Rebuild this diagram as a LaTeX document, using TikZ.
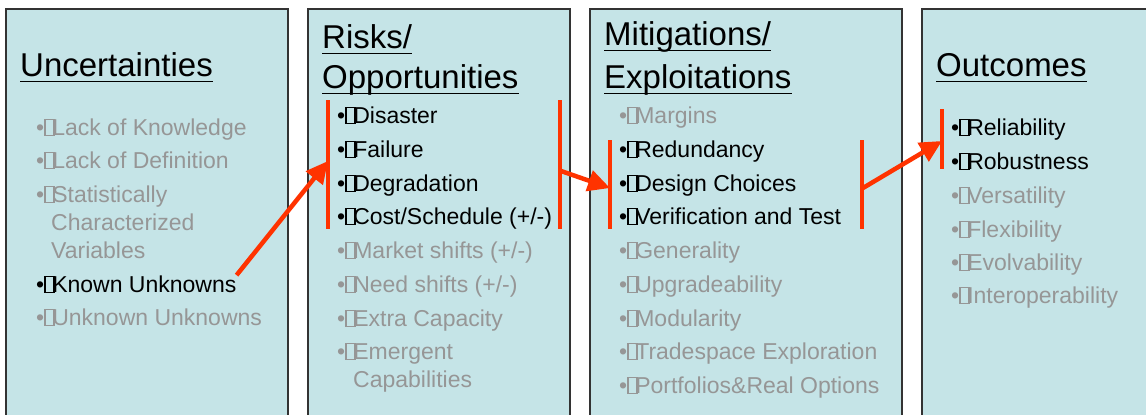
\documentclass[tikz,border=0pt]{standalone}
\usepackage{fontspec}
\setmainfont{Liberation Sans}
\usetikzlibrary{arrows.meta}

\definecolor{panelfill}{RGB}{197,228,231}
\definecolor{dimtext}{RGB}{150,150,150}
\definecolor{hilite}{RGB}{255,51,0}

% the empty glyph box printed after each bullet
\newcommand{\nochar}{\makebox[0.35em][l]{\setlength{\fboxsep}{0pt}\setlength{\fboxrule}{0.06em}\fbox{\rule{0pt}{0.64em}\hspace{0.34em}}}}
\newcommand{\itm}[1]{\textbullet\nochar #1}

\begin{document}
\begin{tikzpicture}[x=1pt, y=-1pt,
    column/.style = {draw=black!80, line width=1.5pt, fill=panelfill},
    head/.style = {anchor=base west, inner sep=0pt, font=\fontsize{33}{38}\selectfont},
    item/.style = {anchor=base west, inner sep=0pt, font=\fontsize{23}{27}\selectfont, text=dimtext},
    hot/.style = {item, text=black},
    uline/.style = {line width=1pt},
    bar/.style = {draw=hilite, line width=4pt},
    link/.style = {draw=hilite, line width=4.5pt, -{Triangle[length=22pt, width=21pt]}}]

    \useasboundingbox (0,0) rectangle (1146,415);
    \clip (0,0) rectangle (1146,415);

    % columns
    \draw[column] (6,9) rectangle (288,440);
    \draw[column] (308,9) rectangle (570,440);
    \draw[column] (590,9) rectangle (902,440);
    \draw[column] (922,9) rectangle (1160,440);

    % Uncertainties
    \node[head] (unc) at (20,76) {Uncertainties};
    \draw[uline] ([yshift=-5pt]unc.base west) -- ([yshift=-5pt]unc.base east);
    \node[item] (lack) at (36,135) {\itm{Lack of Knowledge}};
    \node[item] (def) at (36,168) {\itm{Lack of Definition}};
    \node[item] (stat) at (36,202) {\itm{Statistically}};
    \node[item] (statb) at (51,230) {Characterized};
    \node[item] (statc) at (51,258) {Variables};
    \node[hot] (known) at (36,292) {\itm{Known Unknowns}};
    \node[item] (unknown) at (36,325) {\itm{Unknown Unknowns}};

    % Risks/Opportunities
    \node[head] (risk) at (322,48) {Risks/};
    \node[head] (opp) at (322,88) {Opportunities};
    \draw[uline] ([yshift=-5pt]risk.base west) -- ([yshift=-5pt]risk.base east);
    \draw[uline] ([yshift=-5pt]opp.base west) -- ([yshift=-5pt]opp.base east);
    \node[hot] (disaster) at (337,123) {\itm{Disaster}};
    \node[hot] (failure) at (337,157) {\itm{Failure}};
    \node[hot] (degrad) at (337,191) {\itm{Degradation}};
    \node[hot] (cost) at (337,224) {\itm{Cost/Schedule (+/-)}};
    \node[item] (market) at (337,258) {\itm{Market shifts (+/-)}};
    \node[item] (need) at (337,292) {\itm{Need shifts (+/-)}};
    \node[item] (extra) at (337,326) {\itm{Extra Capacity}};
    \node[item] (emerg) at (337,359) {\itm{Emergent}};
    \node[item] (emergb) at (353,387) {Capabilities};

    % Mitigations/Exploitations
    \node[head] (mit) at (604,45) {Mitigations/};
    \node[head] (expl) at (604,88) {Exploitations};
    \draw[uline] ([yshift=-5pt]mit.base west) -- ([yshift=-5pt]mit.base east);
    \draw[uline] ([yshift=-5pt]expl.base west) -- ([yshift=-5pt]expl.base east);
    \node[item] (margins) at (619,123) {\itm{Margins}};
    \node[hot] (redund) at (619,157) {\itm{Redundancy}};
    \node[hot] (design) at (619,191) {\itm{Design Choices}};
    \node[hot] (verif) at (619,224) {\itm{Verification and Test}};
    \node[item] (general) at (619,258) {\itm{Generality}};
    \node[item] (upgrade) at (619,292) {\itm{Upgradeability}};
    \node[item] (modular) at (619,326) {\itm{Modularity}};
    \node[item] (trade) at (619,359) {\itm{Tradespace Exploration}};
    \node[item] (portf) at (619,393) {\itm{Portfolios\&Real Options}};

    % Outcomes
    \node[head] (out) at (936,76) {Outcomes};
    \draw[uline] ([yshift=-5pt]out.base west) -- ([yshift=-5pt]out.base east);
    \node[hot] (reli) at (951,135) {\itm{Reliability}};
    \node[hot] (robust) at (951,169) {\itm{Robustness}};
    \node[item] (versa) at (951,203) {\itm{Versatility}};
    \node[item] (flex) at (951,237) {\itm{Flexibility}};
    \node[item] (evolv) at (951,270) {\itm{Evolvability}};
    \node[item] (inter) at (951,303) {\itm{Interoperability}};

    % red brackets
    \draw[bar] (328,100) -- (328,229);
    \draw[bar] (560,100) -- (560,229);
    \draw[bar] (610,140) -- (610,229);
    \draw[bar] (862,140) -- (862,229);
    \draw[bar] (942,109) -- (942,169);

    \coordinate (riskin) at (328,161);
    \coordinate (riskout) at (561,171);
    \coordinate (mitin) at (610,188);
    \coordinate (mitout) at (863,188);
    \coordinate (outin) at (942,141);

    % arrows
    \draw[link] (known.north east) -- (riskin);
    \draw[link] (riskout) -- (mitin);
    \draw[link] (mitout) -- (outin);
\end{tikzpicture}
\end{document}
